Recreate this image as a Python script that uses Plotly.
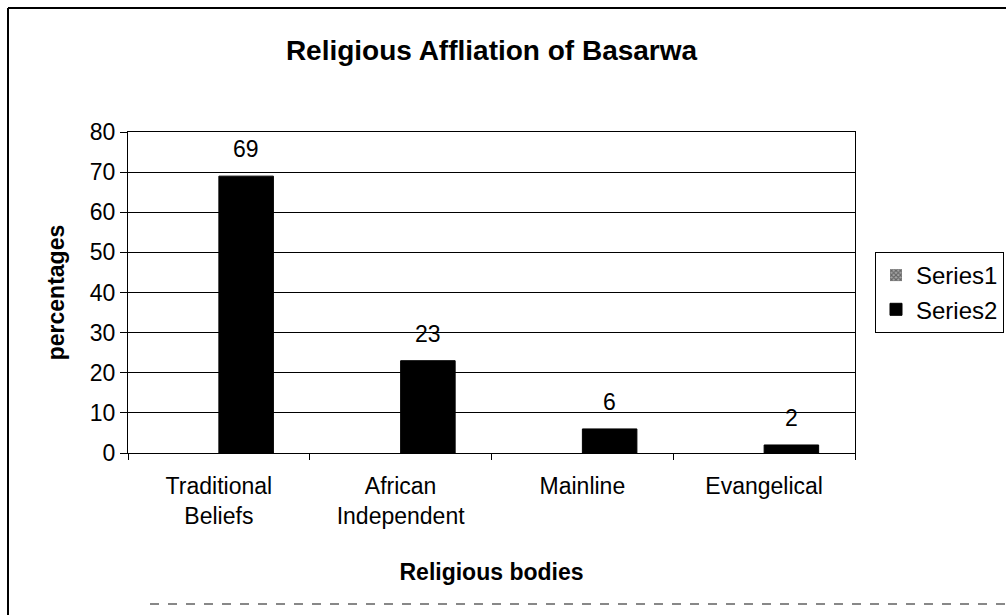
import plotly.graph_objects as go

categories = ["Traditional<br>Beliefs", "African<br>Independent", "Mainline", "Evangelical"]
series1 = [0, 0, 0, 0]
series2 = [69, 23, 6, 2]
title_text = "Religious Affliation of Basarwa"

FONT = "Liberation Sans, Arial, sans-serif"

fig = go.Figure()
fig.add_trace(go.Bar(
    x=categories, y=series1, name="Series1",
    marker=dict(color="white", line=dict(color="black", width=0),
                pattern=dict(shape="x", fgcolor="#222", bgcolor="#aaa", size=4, solidity=0.6)),
))
fig.add_trace(go.Bar(
    x=categories, y=series2, name="Series2",
    marker=dict(color="black", line=dict(color="black", width=1)),
))

for i, v in enumerate(series2):
    fig.add_annotation(x=i + 0.15, y=v, xref="x", yref="y", text=str(v),
                       showarrow=False, yanchor="bottom", yshift=12,
                       font=dict(family=FONT, size=23, color="black"))

L, R, T, B = 128, 151, 132, 162
W, H = 1006, 615
pw, ph = W - L - R, H - T - B

def px(x):
    return (x - L) / pw

def py(y):
    return (H - B - y) / ph

fig.add_shape(type="line", xref="paper", yref="paper", x0=px(8), x1=px(8), y0=py(8), y1=py(615),
              line=dict(color="black", width=2))
fig.add_shape(type="line", xref="paper", yref="paper", x0=px(8), x1=px(1010), y0=py(8), y1=py(8),
              line=dict(color="black", width=2))
fig.add_shape(type="line", xref="paper", yref="paper", x0=px(150), x1=px(1010), y0=py(604), y1=py(604),
              line=dict(color="#888", width=2, dash="dash"))

fig.update_layout(
    width=W, height=H,
    margin=dict(l=L, r=R, t=T, b=B, autoexpand=False),
    paper_bgcolor="white", plot_bgcolor="white",
    barmode="group", bargap=0.4, bargroupgap=0,
    title=dict(text=title_text, x=0.5, xref="paper", xanchor="center", y=1 - 50 / H, yanchor="middle",
               font=dict(family=FONT, size=28, color="black", weight=700)),
    font=dict(family=FONT, color="black"),
    legend=dict(x=px(875), xanchor="left", y=py(252), yanchor="top",
                bordercolor="black", borderwidth=1, bgcolor="white",
                font=dict(family=FONT, size=24, color="black"),
                itemwidth=30, tracegroupgap=6),
    showlegend=True,
)
fig.update_xaxes(
    type="category", showline=True, linecolor="black", linewidth=1, mirror=True,
    ticks="outside", tickson="boundaries", ticklen=6, tickcolor="black",
    ticklabelstandoff=12,
    tickfont=dict(family=FONT, size=23, color="black"),
    title=dict(text="Religious bodies", standoff=36,
               font=dict(family=FONT, size=23, color="black", weight=700)),
)
fig.update_yaxes(
    range=[0, 80], dtick=10, showline=True, linecolor="black", linewidth=1, mirror=True,
    showgrid=True, gridcolor="black", gridwidth=1, zeroline=False,
    ticks="outside", ticklen=7, tickcolor="black",
    tickfont=dict(family=FONT, size=23, color="black"),
    title=dict(text="percentages", standoff=18,
               font=dict(family=FONT, size=23, color="black", weight=700)),
)

fig.write_html("out.html", config={"displayModeBar": False},
               post_script="document.body.style.margin='0';")
